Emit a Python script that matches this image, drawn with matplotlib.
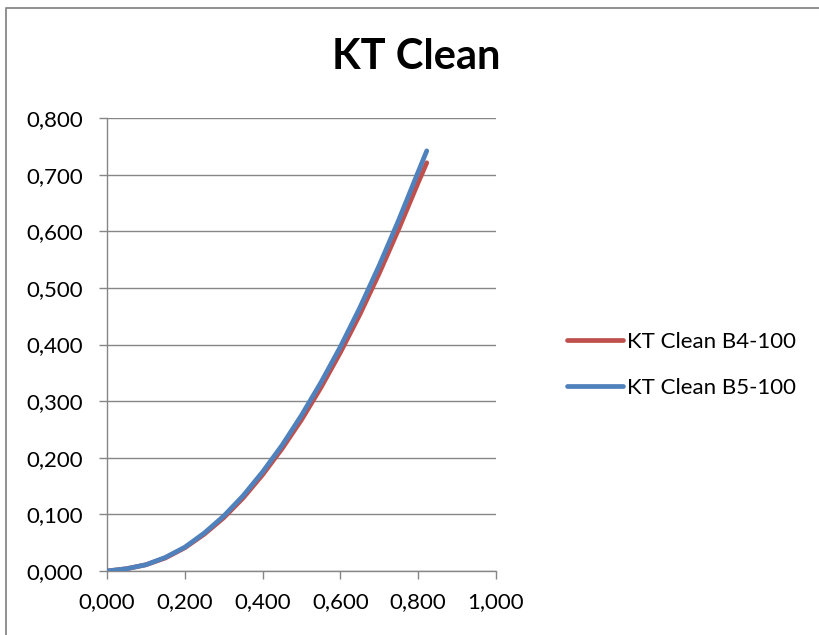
import matplotlib
matplotlib.use("Agg")
import matplotlib.pyplot as plt
from matplotlib.lines import Line2D
from matplotlib.ticker import FuncFormatter, MultipleLocator

# ----------- DATA -------------
j_values = [0.0, 0.05, 0.10, 0.15, 0.20, 0.25, 0.30, 0.35, 0.40, 0.45,
            0.50, 0.55, 0.60, 0.65, 0.70, 0.75, 0.80, 0.822]
kt_b4 = [0.0, 0.004, 0.011, 0.023, 0.041, 0.065, 0.094, 0.129, 0.170, 0.216,
         0.267, 0.324, 0.386, 0.453, 0.526, 0.604, 0.686, 0.721]
kt_b5 = [0.0, 0.004, 0.011, 0.024, 0.042, 0.067, 0.097, 0.133, 0.175, 0.222,
         0.275, 0.333, 0.396, 0.465, 0.540, 0.620, 0.705, 0.742]
series_names = ["KT Clean B4-100", "KT Clean B5-100"]
chart_title = "KT Clean"
# ------------------------------

plt.rcParams['font.family'] = ['Lato', 'DejaVu Sans']

grid_col = '#868686'
fig = plt.figure(figsize=(8.19, 6.35), dpi=100)

# chart frame (only top and left edges are visible in the crop)
fx, fy = 5.5 / 819, 1 - 7.5 / 635
fig.add_artist(Line2D([fx, fx, 1.0], [0.0, fy, fy], transform=fig.transFigure,
                      color='#878787', lw=1.3))

ax = fig.add_axes([107 / 819, 1 - 571 / 635, 389 / 819, 453 / 635])
ax.plot(j_values, kt_b4, color='#C0504D', lw=3.4, label=series_names[0],
        solid_capstyle='round', zorder=3)
ax.plot(j_values, kt_b5, color='#4F81BD', lw=3.4, label=series_names[1],
        solid_capstyle='round', zorder=4)

ax.set_xlim(0, 1.0)
ax.set_ylim(0, 0.8)
ax.xaxis.set_major_locator(MultipleLocator(0.2))
ax.yaxis.set_major_locator(MultipleLocator(0.1))
fmt = FuncFormatter(lambda v, p: f"{v:.3f}".replace('.', ','))
ax.xaxis.set_major_formatter(fmt)
ax.yaxis.set_major_formatter(fmt)

ax.grid(axis='y', color=grid_col, lw=1.0)
ax.set_axisbelow(True)
for s in ['top', 'right']:
    ax.spines[s].set_visible(False)
for s in ['left', 'bottom']:
    ax.spines[s].set_color(grid_col)
    ax.spines[s].set_linewidth(1.0)
ax.tick_params(axis='both', colors=grid_col, length=6, width=1.0,
               labelcolor='black', labelsize=16)
ax.tick_params(axis='x', pad=9.5)
ax.tick_params(axis='y', pad=11.5)

fig.text(416 / 819, 1 - 57 / 635, chart_title, ha='center', va='center',
         fontsize=30, fontweight='bold')

leg = fig.legend(loc='upper left', bbox_to_anchor=(547 / 819, 1 - 312 / 635),
                 frameon=False, fontsize=16, handlelength=2.5,
                 handletextpad=0.18, labelspacing=1.15)

fig.savefig("out.png", dpi=100)
